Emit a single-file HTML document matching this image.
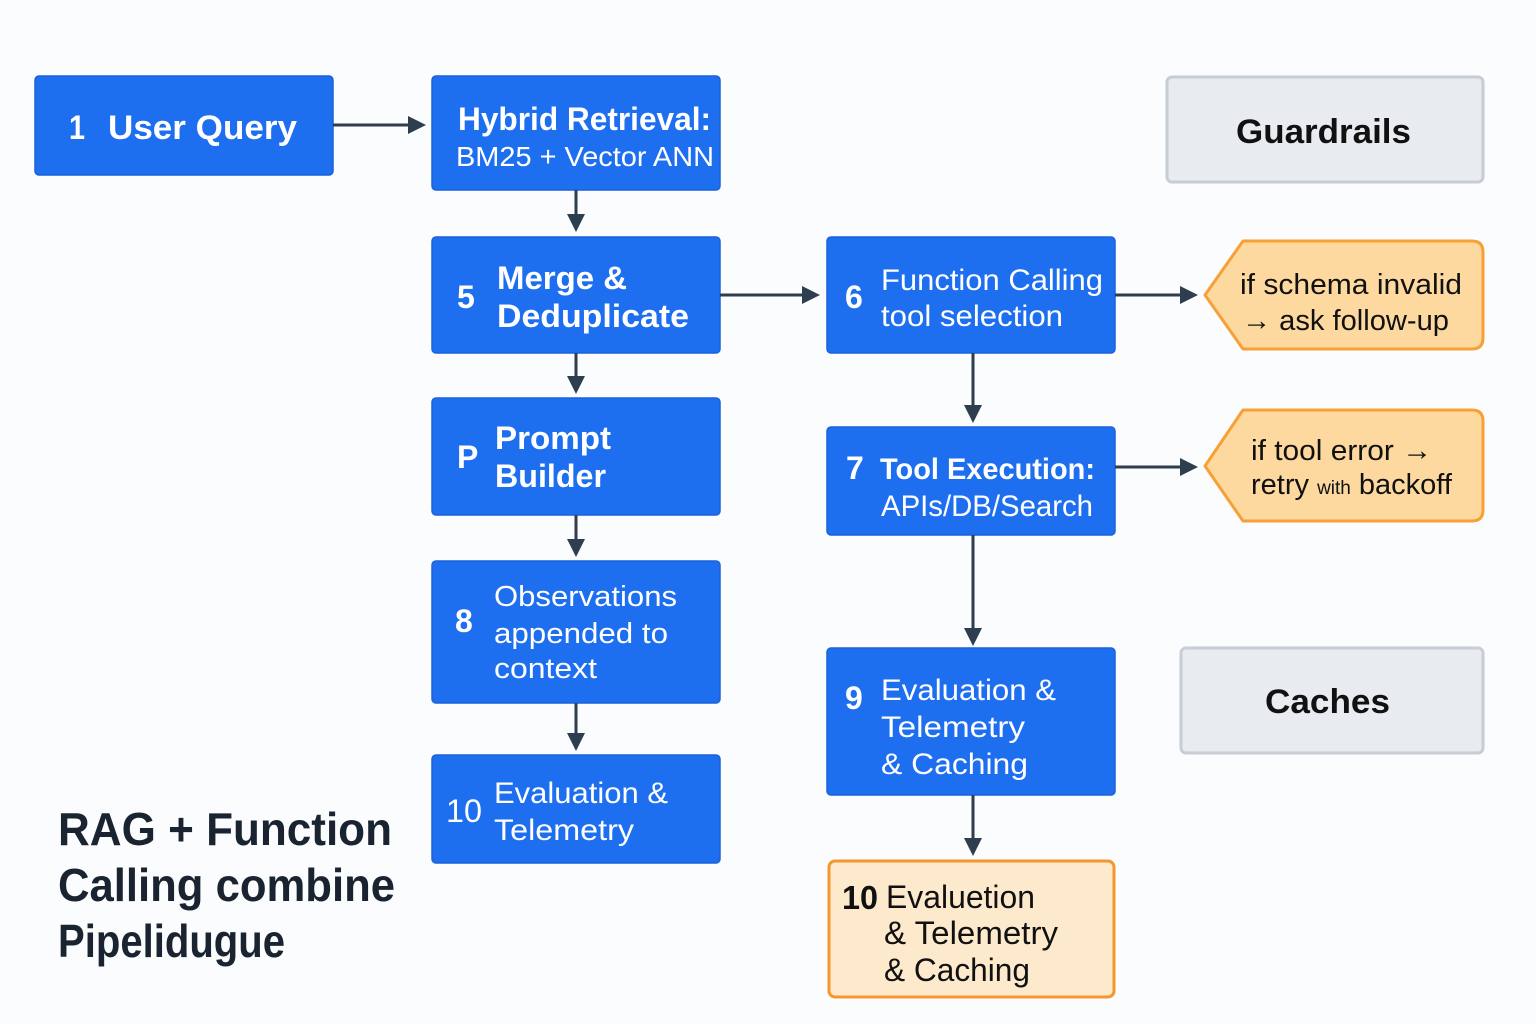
<!DOCTYPE html>
<html><head><meta charset="utf-8"><style>
html,body{margin:0;padding:0;background:#fafcfe;}
svg{display:block;}
text{font-family:"Liberation Sans",sans-serif;}
.w{fill:#fff;}
.b{font-weight:bold;}
</style></head><body>
<svg width="1536" height="1024" viewBox="0 0 1536 1024" xmlns="http://www.w3.org/2000/svg">
<defs>
<marker id="ah" markerWidth="10" markerHeight="10" refX="9" refY="5" orient="auto" markerUnits="userSpaceOnUse" viewBox="0 0 10 10">
</marker>
</defs>
<rect width="1536" height="1024" fill="#fafcfe"/>
<g fill="#1e6ff0" stroke="#1a62d8" stroke-width="1.5">
<rect x="35" y="76" width="298" height="99" rx="4"/>
<rect x="432" y="76" width="288" height="114" rx="4"/>
<rect x="432" y="237" width="288" height="116" rx="4"/>
<rect x="432" y="398" width="288" height="117" rx="4"/>
<rect x="432" y="561" width="288" height="142" rx="4"/>
<rect x="432" y="755" width="288" height="108" rx="4"/>
<rect x="827" y="237" width="288" height="116" rx="4"/>
<rect x="827" y="427" width="288" height="108" rx="4"/>
<rect x="827" y="648" width="288" height="147" rx="4"/>
</g>
<rect x="829" y="861" width="285" height="136" rx="6" fill="#fde9cc" stroke="#f5962e" stroke-width="3"/>
<rect x="1167" y="77" width="316" height="105" rx="5" fill="#e8ebef" stroke="#c6cdd5" stroke-width="3"/>
<rect x="1181" y="648" width="302" height="105" rx="5" fill="#e8ebef" stroke="#c6cdd5" stroke-width="3"/>
<path d="M1205 295 L1243 241 L1472 241 Q1483 241 1483 252 L1483 338 Q1483 349 1472 349 L1243 349 Z" fill="#fdd9a0" stroke="#f7a035" stroke-width="3" stroke-linejoin="round"/>
<path d="M1205 466 L1243 410 L1472 410 Q1483 410 1483 421 L1483 510 Q1483 521 1472 521 L1243 521 Z" fill="#fdd9a0" stroke="#f7a035" stroke-width="3" stroke-linejoin="round"/>

<g stroke="#2f3e4e" stroke-width="3" fill="none">
<line x1="333" y1="125" x2="410" y2="125"/>
<line x1="576" y1="190" x2="576" y2="216"/>
<line x1="720" y1="295" x2="804" y2="295"/>
<line x1="576" y1="353" x2="576" y2="378"/>
<line x1="576" y1="515" x2="576" y2="541"/>
<line x1="576" y1="703" x2="576" y2="735"/>
<line x1="1115" y1="295" x2="1182" y2="295"/>
<line x1="973" y1="353" x2="973" y2="407"/>
<line x1="1115" y1="467" x2="1182" y2="467"/>
<line x1="973" y1="535" x2="973" y2="630"/>
<line x1="973" y1="795" x2="973" y2="840"/>
</g>
<g fill="#2f3e4e">
<path d="M408 116 L426 125 L408 134Z"/>
<path d="M567 214 L576 232 L585 214Z"/>
<path d="M802 286 L820 295 L802 304Z"/>
<path d="M567 376 L576 394 L585 376Z"/>
<path d="M567 539 L576 557 L585 539Z"/>
<path d="M567 733 L576 751 L585 733Z"/>
<path d="M1180 286 L1198 295 L1180 304Z"/>
<path d="M964 405 L973 423 L982 405Z"/>
<path d="M1180 458 L1198 467 L1180 476Z"/>
<path d="M964 628 L973 646 L982 628Z"/>
<path d="M964 838 L973 856 L982 838Z"/>
</g>

<g class="w">
<text x="69" y="139" font-size="34" class="b" textLength="16" lengthAdjust="spacingAndGlyphs">1</text>
<text x="108" y="139" font-size="34" class="b" textLength="189" lengthAdjust="spacingAndGlyphs">User Query</text>
<text x="458" y="130" font-size="32" class="b" textLength="253" lengthAdjust="spacingAndGlyphs">Hybrid Retrieval:</text>
<text x="456" y="166" font-size="28" textLength="258" lengthAdjust="spacingAndGlyphs">BM25 + Vector ANN</text>
<text x="457" y="308" font-size="32" class="b">5</text>
<text x="497" y="289" font-size="32" class="b" textLength="130" lengthAdjust="spacingAndGlyphs">Merge &amp;</text>
<text x="497" y="327" font-size="32" class="b" textLength="192" lengthAdjust="spacingAndGlyphs">Deduplicate</text>
<text x="457" y="468" font-size="32" class="b">P</text>
<text x="495" y="449" font-size="32" class="b" textLength="116" lengthAdjust="spacingAndGlyphs">Prompt</text>
<text x="495" y="487" font-size="32" class="b" textLength="111" lengthAdjust="spacingAndGlyphs">Builder</text>
<text x="455" y="632" font-size="32" class="b">8</text>
<text x="494" y="606" font-size="29" textLength="183" lengthAdjust="spacingAndGlyphs">Observations</text>
<text x="494" y="643" font-size="29" textLength="174" lengthAdjust="spacingAndGlyphs">appended to</text>
<text x="494" y="678" font-size="29" textLength="103" lengthAdjust="spacingAndGlyphs">context</text>
<text x="446" y="822" font-size="32" textLength="36" lengthAdjust="spacingAndGlyphs">10</text>
<text x="494" y="803" font-size="30" textLength="174" lengthAdjust="spacingAndGlyphs">Evaluation &amp;</text>
<text x="494" y="840" font-size="30" textLength="140" lengthAdjust="spacingAndGlyphs">Telemetry</text>
<text x="845" y="308" font-size="32" class="b">6</text>
<text x="881" y="290" font-size="30" textLength="222" lengthAdjust="spacingAndGlyphs">Function Calling</text>
<text x="881" y="326" font-size="30" textLength="182" lengthAdjust="spacingAndGlyphs">tool selection</text>
<text x="846" y="479" font-size="32" class="b">7</text>
<text x="880" y="479" font-size="30" class="b" textLength="215" lengthAdjust="spacingAndGlyphs">Tool Execution:</text>
<text x="881" y="516" font-size="30" textLength="212" lengthAdjust="spacingAndGlyphs">APIs/DB/Search</text>
<text x="845" y="709" font-size="32" class="b">9</text>
<text x="881" y="700" font-size="30" textLength="175" lengthAdjust="spacingAndGlyphs">Evaluation &amp;</text>
<text x="881" y="737" font-size="30" textLength="144" lengthAdjust="spacingAndGlyphs">Telemetry</text>
<text x="881" y="774" font-size="30" textLength="147" lengthAdjust="spacingAndGlyphs">&amp; Caching</text>
</g>
<g fill="#111">
<text x="842" y="909" font-size="33" class="b" textLength="36" lengthAdjust="spacingAndGlyphs">10</text>
<text x="886" y="908" font-size="32" textLength="149" lengthAdjust="spacingAndGlyphs">Evaluetion</text>
<text x="884" y="944" font-size="32" textLength="174" lengthAdjust="spacingAndGlyphs">&amp; Telemetry</text>
<text x="884" y="981" font-size="32" textLength="146" lengthAdjust="spacingAndGlyphs">&amp; Caching</text>
<text x="1236" y="143" font-size="34" class="b" textLength="175" lengthAdjust="spacingAndGlyphs">Guardrails</text>
<text x="1265" y="713" font-size="34" class="b" textLength="125" lengthAdjust="spacingAndGlyphs">Caches</text>
<text x="1240" y="294" font-size="29" textLength="222" lengthAdjust="spacingAndGlyphs">if schema invalid</text>
<text x="1242" y="330" font-size="29" textLength="207" lengthAdjust="spacingAndGlyphs">→ ask follow-up</text>
<text x="1251" y="460" font-size="29" textLength="181" lengthAdjust="spacingAndGlyphs">if tool error →</text>
<text x="1251" y="494" font-size="29">retry <tspan font-size="19">with</tspan> backoff</text>
</g>
<g fill="#1a2330" font-weight="bold" font-size="46">
<text x="58" y="845" textLength="334" lengthAdjust="spacingAndGlyphs">RAG + Function</text>
<text x="58" y="901" textLength="337" lengthAdjust="spacingAndGlyphs">Calling combine</text>
<text x="58" y="957" textLength="227" lengthAdjust="spacingAndGlyphs">Pipelidugue</text>
</g>
</svg>
</body></html>
